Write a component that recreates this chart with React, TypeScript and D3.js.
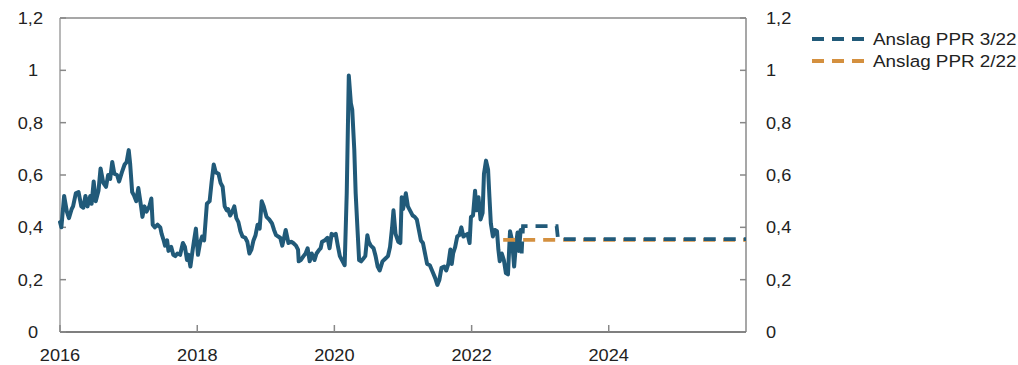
import React from "react";
import * as d3 from "d3";

// Historical series (time in decimal years, value in percentage points)
const histYears = [
  2016.0, 2016.02, 2016.06, 2016.1, 2016.13, 2016.17, 2016.19, 2016.23, 2016.27, 2016.31, 2016.34, 2016.37,
  2016.4, 2016.44, 2016.46, 2016.49, 2016.52, 2016.56, 2016.59, 2016.63, 2016.67, 2016.7, 2016.73, 2016.76,
  2016.79, 2016.83, 2016.86, 2016.9, 2016.94, 2016.97, 2017.0, 2017.02, 2017.05, 2017.08, 2017.11, 2017.14,
  2017.18, 2017.2, 2017.23, 2017.26, 2017.3, 2017.33, 2017.35, 2017.38, 2017.42, 2017.46, 2017.48, 2017.51,
  2017.53, 2017.56, 2017.58, 2017.62, 2017.65, 2017.68, 2017.71, 2017.75, 2017.79, 2017.82, 2017.85, 2017.87,
  2017.9, 2017.92, 2017.95, 2017.98, 2018.01, 2018.04, 2018.07, 2018.1, 2018.14, 2018.18, 2018.21, 2018.24,
  2018.27, 2018.31, 2018.34, 2018.37, 2018.4, 2018.43, 2018.45, 2018.48, 2018.51, 2018.54, 2018.57, 2018.6,
  2018.63, 2018.66, 2018.7, 2018.73, 2018.76, 2018.79, 2018.82, 2018.85, 2018.88, 2018.91, 2018.94, 2018.97,
  2019.01, 2019.05, 2019.09, 2019.12, 2019.15, 2019.18, 2019.21, 2019.24, 2019.27, 2019.29, 2019.33, 2019.37,
  2019.4, 2019.44, 2019.47, 2019.48, 2019.51, 2019.55, 2019.58, 2019.61, 2019.64, 2019.67, 2019.71, 2019.74,
  2019.78, 2019.8, 2019.82, 2019.86, 2019.9, 2019.93, 2019.96, 2019.99, 2020.02, 2020.05, 2020.08, 2020.12,
  2020.15, 2020.18, 2020.21, 2020.24, 2020.26, 2020.29, 2020.31, 2020.34, 2020.36, 2020.39, 2020.42, 2020.45,
  2020.48, 2020.5, 2020.53, 2020.57, 2020.6, 2020.63, 2020.66, 2020.7, 2020.74, 2020.78, 2020.81, 2020.84,
  2020.86, 2020.89, 2020.93, 2020.96, 2020.98, 2021.0, 2021.04, 2021.07, 2021.1, 2021.14, 2021.17, 2021.2,
  2021.23, 2021.26, 2021.29, 2021.32, 2021.35, 2021.39, 2021.43, 2021.47, 2021.5, 2021.53, 2021.56, 2021.6,
  2021.63, 2021.66, 2021.69, 2021.71, 2021.73, 2021.76, 2021.79, 2021.82, 2021.85, 2021.88, 2021.91, 2021.94,
  2021.97, 2021.99, 2022.02, 2022.05, 2022.07, 2022.1, 2022.13, 2022.16, 2022.18, 2022.21, 2022.24, 2022.26,
  2022.28, 2022.31, 2022.34, 2022.37, 2022.39, 2022.41, 2022.44, 2022.47, 2022.5, 2022.53, 2022.56, 2022.59,
  2022.62, 2022.645, 2022.67, 2022.69, 2022.715,
];
const histValues = [
  0.42, 0.4, 0.52, 0.46, 0.435, 0.47, 0.48, 0.53, 0.535, 0.48, 0.475, 0.52,
  0.48, 0.52, 0.49, 0.575, 0.5, 0.54, 0.625, 0.57, 0.555, 0.6, 0.585, 0.65,
  0.605, 0.6, 0.575, 0.61, 0.64, 0.65, 0.695, 0.645, 0.535, 0.52, 0.5, 0.55,
  0.48, 0.44, 0.48, 0.46, 0.48, 0.51, 0.41, 0.4, 0.41, 0.4, 0.375, 0.35,
  0.33, 0.35, 0.31, 0.325, 0.295, 0.29, 0.3, 0.295, 0.34, 0.325, 0.275, 0.295,
  0.25, 0.29, 0.345, 0.395, 0.295, 0.34, 0.365, 0.35, 0.49, 0.5, 0.575, 0.64,
  0.61, 0.605, 0.57, 0.555, 0.48, 0.465, 0.47, 0.445, 0.46, 0.48, 0.435, 0.42,
  0.385, 0.365, 0.36, 0.345, 0.3, 0.315, 0.35, 0.37, 0.41, 0.395, 0.5, 0.48,
  0.44, 0.43, 0.415, 0.39, 0.37, 0.365, 0.36, 0.33, 0.365, 0.39, 0.34, 0.345,
  0.34, 0.33, 0.315, 0.27, 0.275, 0.29, 0.3, 0.32, 0.27, 0.3, 0.275, 0.3,
  0.315, 0.32, 0.345, 0.35, 0.36, 0.32, 0.375, 0.37, 0.375, 0.33, 0.29, 0.27,
  0.255, 0.53, 0.98, 0.875, 0.85, 0.695, 0.53, 0.375, 0.275, 0.27, 0.28, 0.29,
  0.37, 0.345, 0.33, 0.32, 0.29, 0.25, 0.235, 0.27, 0.28, 0.29, 0.325, 0.4,
  0.465, 0.375, 0.345, 0.34, 0.515, 0.47, 0.53, 0.48, 0.465, 0.445, 0.44, 0.43,
  0.39, 0.35, 0.34, 0.3, 0.26, 0.255, 0.23, 0.205, 0.18, 0.2, 0.245, 0.25,
  0.235, 0.26, 0.315, 0.26, 0.3, 0.325, 0.365, 0.37, 0.4, 0.365, 0.37, 0.375,
  0.34, 0.44, 0.445, 0.54, 0.465, 0.515, 0.43, 0.455, 0.605, 0.655, 0.62, 0.515,
  0.415, 0.365, 0.39, 0.385, 0.315, 0.27, 0.3, 0.275, 0.225, 0.22, 0.385, 0.35,
  0.25, 0.33, 0.38, 0.31, 0.39,
];

// Forecast PPR 3/22
const ppr3Years = [2022.73, 2022.75, 2023.24, 2023.26, 2026.0];
const ppr3Values = [0.3, 0.405, 0.405, 0.355, 0.355];

// Forecast PPR 2/22
const ppr2Years = [2022.46, 2026.0];
const ppr2Values = [0.352, 0.352];

const xTickYears = [2016, 2018, 2020, 2022, 2024];
const yTickValues = [0, 0.2, 0.4, 0.6, 0.8, 1, 1.2];
const legendLabels = ["Anslag PPR 3/22", "Anslag PPR 2/22"];

const BLUE = "#215a79";
const ORANGE = "#d4903f";
const TEXT = "#222222";
const FONT = "'Liberation Sans', Arial, Helvetica, sans-serif";
const FS = 17;
const SX = 1.07;

function toDate(y: number): Date {
  const yr = Math.floor(y);
  const start = new Date(yr, 0, 1).getTime();
  const end = new Date(yr + 1, 0, 1).getTime();
  return new Date(start + (y - yr) * (end - start));
}

const fmt = (v: number) => String(+v.toFixed(1)).replace(".", ",");

function Label(props: { x: number; y: number; anchor: string; sx?: number; children: string }) {
  return (
    <text
      transform={`translate(${props.x},${props.y}) scale(${props.sx ?? SX},1)`}
      textAnchor={props.anchor}
      fontFamily={FONT}
      fontSize={FS}
      fill={TEXT}
    >
      {props.children}
    </text>
  );
}

export default function App() {
  const left = 60, right = 746, top = 18, bottom = 332;
  const x = d3.scaleTime().domain([toDate(2016), toDate(2026)]).range([left, right]);
  const y = d3.scaleLinear().domain([0, 1.2]).range([bottom, top]);

  const line = d3
    .line<[number, number]>()
    .x((d) => x(toDate(d[0])))
    .y((d) => y(d[1]))
    .curve(d3.curveLinear);

  const hist = histYears.map((t, i) => [t, histValues[i]] as [number, number]);
  const p3 = ppr3Years.map((t, i) => [t, ppr3Values[i]] as [number, number]);
  const p2 = ppr2Years.map((t, i) => [t, ppr2Values[i]] as [number, number]);

  return (
    <svg
      width={1018}
      height={365}
      style={{ position: "absolute", left: 0, top: 0, background: "#fff" }}
    >
      {/* frame */}
      <line x1={left} x2={right} y1={top} y2={top} stroke="#8a8a8a" strokeWidth={1.5} />
      <line x1={right} x2={right} y1={top} y2={bottom} stroke="#8a8a8a" strokeWidth={1.5} />
      <line x1={left} x2={left} y1={top} y2={bottom} stroke="#a0a0a0" strokeWidth={1.5} />
      <line x1={left} x2={right} y1={bottom} y2={bottom} stroke="#555" strokeWidth={1.5} />

      {/* y ticks */}
      {yTickValues.map((v) => (
        <g key={"yt" + v}>
          <line x1={left} x2={left + 6} y1={y(v)} y2={y(v)} stroke="#888" strokeWidth={1.5} />
          <line x1={right - 6} x2={right} y1={y(v)} y2={y(v)} stroke="#888" strokeWidth={1.5} />
          <Label x={fmt(v).length > 1 ? 43 : 38} y={y(v) + 6} anchor="end">
            {fmt(v)}
          </Label>
          <Label x={766} y={y(v) + 6} anchor="start">
            {fmt(v)}
          </Label>
        </g>
      ))}

      {/* x ticks */}
      {xTickYears.map((t) => (
        <g key={"xt" + t}>
          <line x1={x(toDate(t))} x2={x(toDate(t))} y1={bottom} y2={bottom - 7} stroke="#888" strokeWidth={1.5} />
          <Label x={x(toDate(t))} y={361} anchor="middle">
            {String(t)}
          </Label>
        </g>
      ))}

      {/* series */}
      <path d={line(hist) || ""} fill="none" stroke={BLUE} strokeWidth={4} strokeLinejoin="round" strokeLinecap="round" />
      <path d={line(p2) || ""} fill="none" stroke={ORANGE} strokeWidth={3.8} strokeDasharray="12 8" />
      <path d={line(p3) || ""} fill="none" stroke={BLUE} strokeWidth={3.8} strokeDasharray="12 8" />

      {/* legend */}
      {legendLabels.map((lab, i) => (
        <g key={lab}>
          <line
            x1={812}
            x2={864}
            y1={39 + i * 22}
            y2={39 + i * 22}
            stroke={i === 0 ? BLUE : ORANGE}
            strokeWidth={3.8}
            strokeDasharray="12 8"
          />
          <Label x={873} y={45 + i * 22} anchor="start" sx={1.11}>
            {lab}
          </Label>
        </g>
      ))}
    </svg>
  );
}
